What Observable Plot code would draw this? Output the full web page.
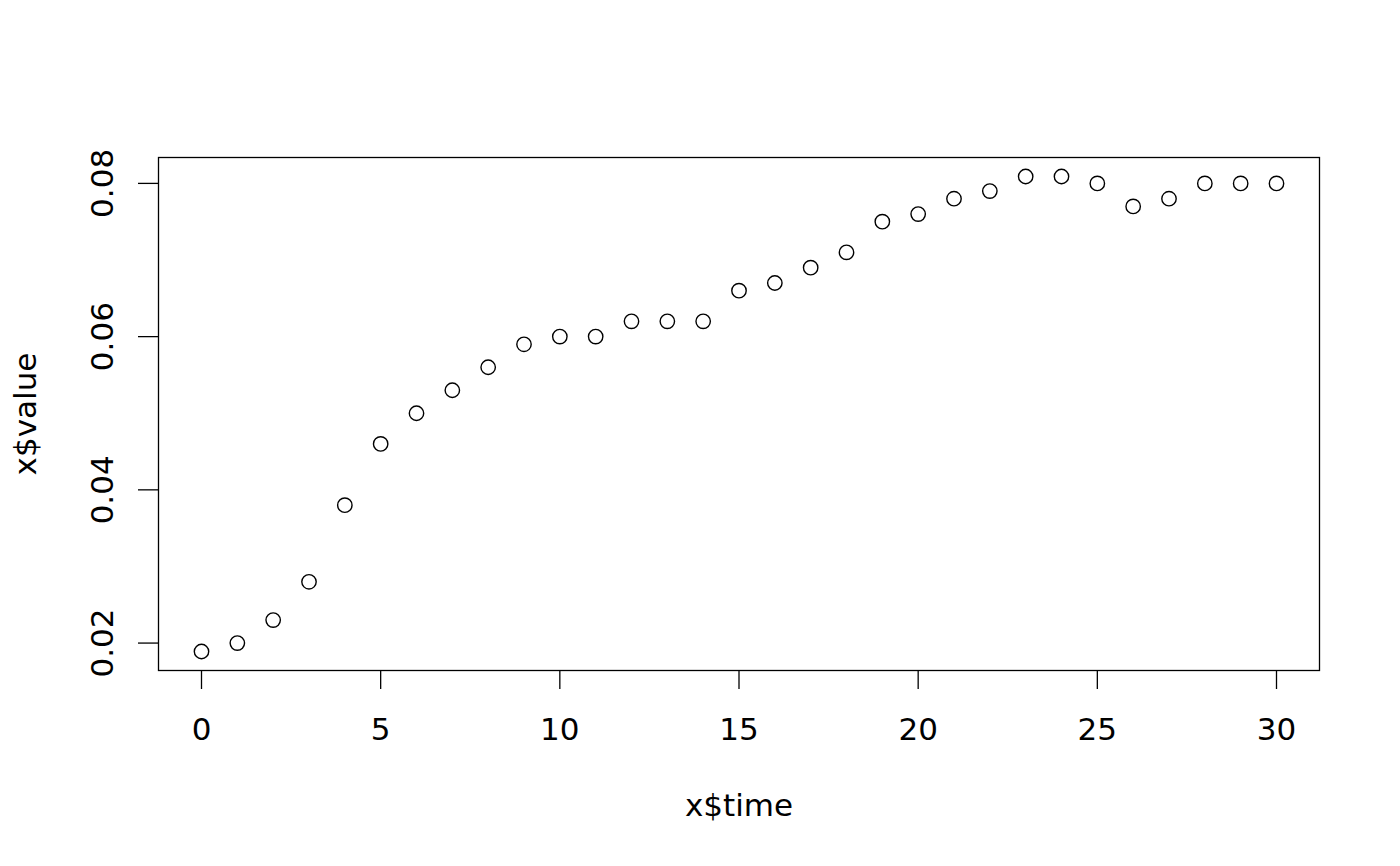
<!DOCTYPE html>
<html>
<head>
<meta charset="utf-8">
<script src="https://cdn.jsdelivr.net/npm/d3@7"></script>
<script src="https://cdn.jsdelivr.net/npm/@observablehq/plot@0.6"></script>
<style>
  html, body { margin: 0; padding: 0; background: #fff; }
  #chart svg { display: block; }
</style>
</head>
<body>
<div id="chart"></div>
<script>
const time = [0,1,2,3,4,5,6,7,8,9,10,11,12,13,14,15,16,17,18,19,20,21,22,23,24,25,26,27,28,29,30];
const value = [0.0189,0.020,0.023,0.028,0.038,0.046,0.050,0.053,0.056,0.059,0.060,0.060,0.062,0.062,0.062,0.066,0.067,0.069,0.071,0.075,0.076,0.078,0.079,0.0809,0.0809,0.080,0.077,0.078,0.080,0.080,0.080];
const xTicks = [0,5,10,15,20,25,30];
const yTicks = [0.02,0.04,0.06,0.08];
const xTitle = "x$time";
const yTitle = "x$value";

const data = time.map((t, i) => ({time: t, value: value[i]}));
const pad = (ext) => { const r = ext[1] - ext[0]; return [ext[0] - 0.04 * r, ext[1] + 0.04 * r]; };
const xDom = pad(d3.extent(time));
const yDom = pad(d3.extent(value));

const FS = 31;
const chart = Plot.plot({
  width: 1400,
  height: 866,
  marginLeft: 158,
  marginRight: 81,
  marginTop: 157,
  marginBottom: 196,
  style: {fontFamily: "'DejaVu Sans', sans-serif", fontSize: FS + "px", color: "#000", background: "#fff"},
  x: {domain: xDom},
  y: {domain: yDom},
  marks: [
    Plot.frame({stroke: "#000", strokeWidth: 1.3}),
    Plot.axisX(xTicks, {tickSize: 19, tickPadding: 28, strokeWidth: 1.3, fontSize: FS, label: null, tickFormat: d => String(d)}),
    Plot.axisY(yTicks, {tickSize: 20, strokeWidth: 1.3, text: null, label: null}),
    Plot.text(yTicks, {y: d => d, text: d => d.toFixed(2), frameAnchor: "left", rotate: -90, textAnchor: "middle", lineAnchor: "bottom", dx: -46, fontSize: FS, fill: "#000"}),
    Plot.text([xTitle], {text: d => d, frameAnchor: "bottom", lineAnchor: "bottom", dy: 145, fontSize: FS, fill: "#000"}),
    Plot.text([yTitle], {text: d => d, frameAnchor: "left", rotate: -90, textAnchor: "middle", lineAnchor: "bottom", dx: -123, fontSize: FS, fill: "#000"}),
    Plot.dot(data, {x: "time", y: "value", r: 7.2, stroke: "#000", strokeWidth: 1.4, fill: "none"})
  ]
});
document.getElementById("chart").appendChild(chart);
</script>
</body>
</html>
